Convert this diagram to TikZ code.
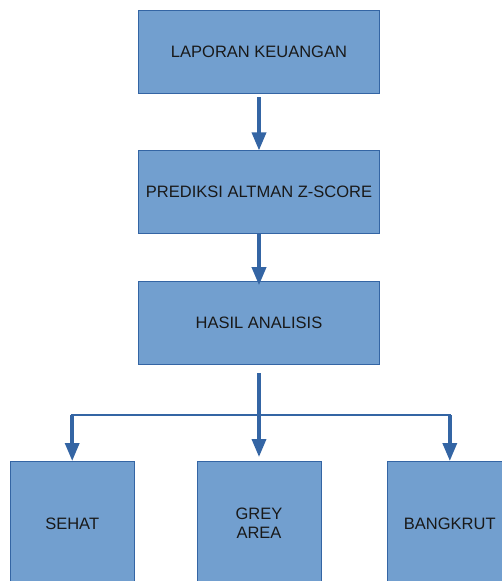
\documentclass[tikz,border=0pt]{standalone}
\usepackage{fontspec}
\setmainfont{Liberation Sans}
\usepackage{xcolor}
\definecolor{boxblue}{HTML}{729FCF}
\definecolor{lineblue}{HTML}{3465A4}
\usepackage{tikz}
\usetikzlibrary{arrows.meta,positioning,calc}

\begin{document}
\begin{tikzpicture}[
  box/.style={draw=lineblue,line width=0.8pt,fill=boxblue,align=center,minimum width=241pt,minimum height=83pt,inner sep=0pt,font=\fontsize{16.5}{19.5}\selectfont,text=black!90},
  leaf/.style={box,minimum width=124pt,minimum height=124pt},
  arr/.style={-{Triangle[length=18pt,width=14pt]},line width=3.5pt,draw=lineblue},
  link/.style={line width=2.8pt,draw=lineblue}]
\useasboundingbox (0,0) rectangle (502pt,-581pt);
\clip (0,0) rectangle (502pt,-581pt);
\node[box] (lapor) at (259pt,-51.5pt) {LAPORAN KEUANGAN};
\node[box,below=57pt of lapor] (altman) {PREDIKSI ALTMAN Z-SCORE};
\node[box,below=47pt of altman] (hasil) {HASIL ANALISIS};
\node[leaf,below=96pt of hasil] (grey) {GREY\\AREA};
\node[leaf,left=62pt of grey] (sehat) {SEHAT};
\node[leaf,right=66pt of grey] (bangkrut) {BANGKRUT};
\coordinate (split) at ($(hasil.south)+(0,-50pt)$);
\draw[arr,shorten <=4pt] (lapor) -- (altman);
\draw[arr,shorten >=-4pt] (altman) -- (hasil);
\draw[arr,shorten <=8pt,shorten >=4pt] (hasil) -- (grey);
\draw[link] ($(sehat.north |- split)+(-1.4pt,0)$) -- ($(bangkrut.north |- split)+(1.4pt,0)$);
\draw[arr] (sehat.north |- split) -- (sehat.north);
\draw[arr] (bangkrut.north |- split) -- (bangkrut.north);
\end{tikzpicture}
\end{document}
